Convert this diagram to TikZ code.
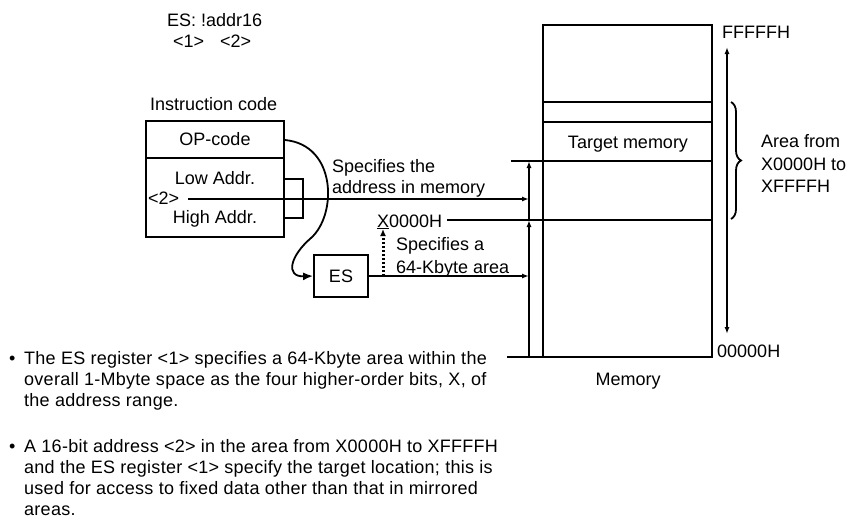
\documentclass[tikz,border=0pt]{standalone}
\usepackage{fontspec}
\setmainfont{Liberation Sans}
\usetikzlibrary{arrows.meta,decorations.pathreplacing}
\begin{document}
\begin{tikzpicture}[x=1pt,y=-1pt,
  every node/.style={font=\fontsize{18}{21}\selectfont, inner sep=0pt},
  ln/.style={line width=1.8pt},
  arr/.style={ln,-{Latex[length=7pt,width=5pt]}},
  lbl/.style={anchor=base west},
  ctr/.style={anchor=base},
  bul/.style={anchor=base west, font=\fontsize{18}{21}\selectfont\addfontfeature{LetterSpace=1.5}}]
\useasboundingbox (0,0) rectangle (853,522);
% --- top syntax
\node[lbl] (top1) at (167,26) {ES: !addr16};
\node[lbl] (t1) at (173,47) {<1>};
\node[lbl] (t2) at (220,47) {<2>};
% --- instruction code box
\node[lbl] (ic) at (150,110) {Instruction code};
\coordinate (ibtl) at (146,121);
\coordinate (ibbr) at (284,237);
\draw[ln] (ibtl) rectangle (ibbr);
\draw[ln] (146,158) -- (284,158);
\node[ctr] (op) at (215,145) {OP-code};
\node[ctr] (lo) at (215,184) {Low Addr.};
\node[ctr] (hi) at (215,223) {High Addr.};
\node[lbl] (m2) at (148,204) {<2>};
\coordinate (mid) at (188,199);
\coordinate (midr) at (284,199);
\draw[ln] (mid) -- (midr);
% bracket
\coordinate (bk1) at (284,179);
\coordinate (bk2) at (303,179);
\coordinate (bk3) at (303,218);
\coordinate (bk4) at (284,218);
\coordinate (bkm) at (303,199);
\draw[ln] (bk1) -- (bk2) -- (bk3) -- (bk4);
\draw[ln] (midr) -- (bkm);
% --- ES register
\node[draw, ln, minimum width=54, minimum height=42] (es) at (341,276) {ES};
\coordinate (opr) at (285,140);
\draw[ln,-{Latex[length=10pt,width=8pt]}] (opr) .. controls (337,145) and (337,215) .. (311,238) .. controls (290,256) and (285,277) .. (es.west);
% --- memory
\coordinate (mtl) at (543,25);
\coordinate (mbr) at (712,357);
\draw[ln] (mtl) rectangle (mbr);
\coordinate (l1a) at (543,102); \coordinate (l1b) at (712,102);
\coordinate (l2a) at (543,122); \coordinate (l2b) at (712,122);
\coordinate (l3a) at (511,161); \coordinate (l3b) at (712,161);
\coordinate (l4a) at (447,220); \coordinate (l4b) at (712,220);
\coordinate (l5a) at (507,357);
\draw[ln] (l1a) -- (l1b);
\draw[ln] (l2a) -- (l2b);
\draw[ln] (l3a) -- (l3b);
\draw[ln] (l4a) -- (l4b);
\draw[ln] (l5a) -- (mbr);
\node[ctr] (tm) at (628,148) {Target memory};
\node[ctr] (mem) at (628,385) {Memory};
% vertical address arrows
\coordinate (vb) at (529,357);
\coordinate (vm) at (529,220);
\coordinate (vt) at (529,161);
\draw[arr] (vb) -- (vm);
\draw[arr] (vm) -- (vt);
\coordinate (va) at (529,199);
\coordinate (ve) at (529,276);
\draw[arr] (bkm) -- (va);
\draw[arr] (es.east) -- (ve);
% labels
\node[lbl] (sp1) at (332,172) {Specifies the};
\node[lbl] (sp2) at (332,193) {address in memory};
\node[lbl] (x0) at (377,227) {\underline{X}0000H};
\node[lbl] (sa1) at (396,250) {Specifies a};
\node[lbl] (sa2) at (396,273) {64-Kbyte area};
\coordinate (db) at (383,276);
\coordinate (dt) at (383,229);
\draw[line width=3pt, dash pattern=on 2.5pt off 1.5pt, -{Latex[length=7pt,width=6pt]}] (db) -- (dt);
% right side
\node[lbl] (ff) at (722,38) {FFFFFH};
\node[lbl] (zz) at (717,357) {00000H};
\coordinate (rt) at (727,47);
\coordinate (rb) at (727,334);
\draw[ln,{Latex[length=7pt,width=5pt]}-{Latex[length=7pt,width=5pt]}] (rt) -- (rb);
\coordinate (bt) at (731,102);
\coordinate (bb) at (731,219);
\draw[ln, decorate, decoration={brace, amplitude=10pt}] (bt) -- (bb);
\node[lbl] (a1) at (761,147) {Area from};
\node[lbl] (a2) at (761,170) {X0000H to};
\node[lbl] (a3) at (761,192) {XFFFFH};
% bullets
\node[lbl] (b1) at (9,364) {•};
\node[bul] (p1) at (24,364) {The ES register <1> specifies a 64-Kbyte area within the};
\node[bul] (p2) at (24,385) {overall 1-Mbyte space as the four higher-order bits, X, of};
\node[bul] (p3) at (24,406) {the address range.};
\node[lbl] (b2) at (9,452) {•};
\node[bul] (p4) at (24,452) {A 16-bit address <2> in the area from X0000H to XFFFFH};
\node[bul] (p5) at (24,473) {and the ES register <1> specify the target location; this is};
\node[bul] (p6) at (24,494) {used for access to fixed data other than that in mirrored};
\node[bul] (p7) at (24,515) {areas.};
\end{tikzpicture}
\end{document}
